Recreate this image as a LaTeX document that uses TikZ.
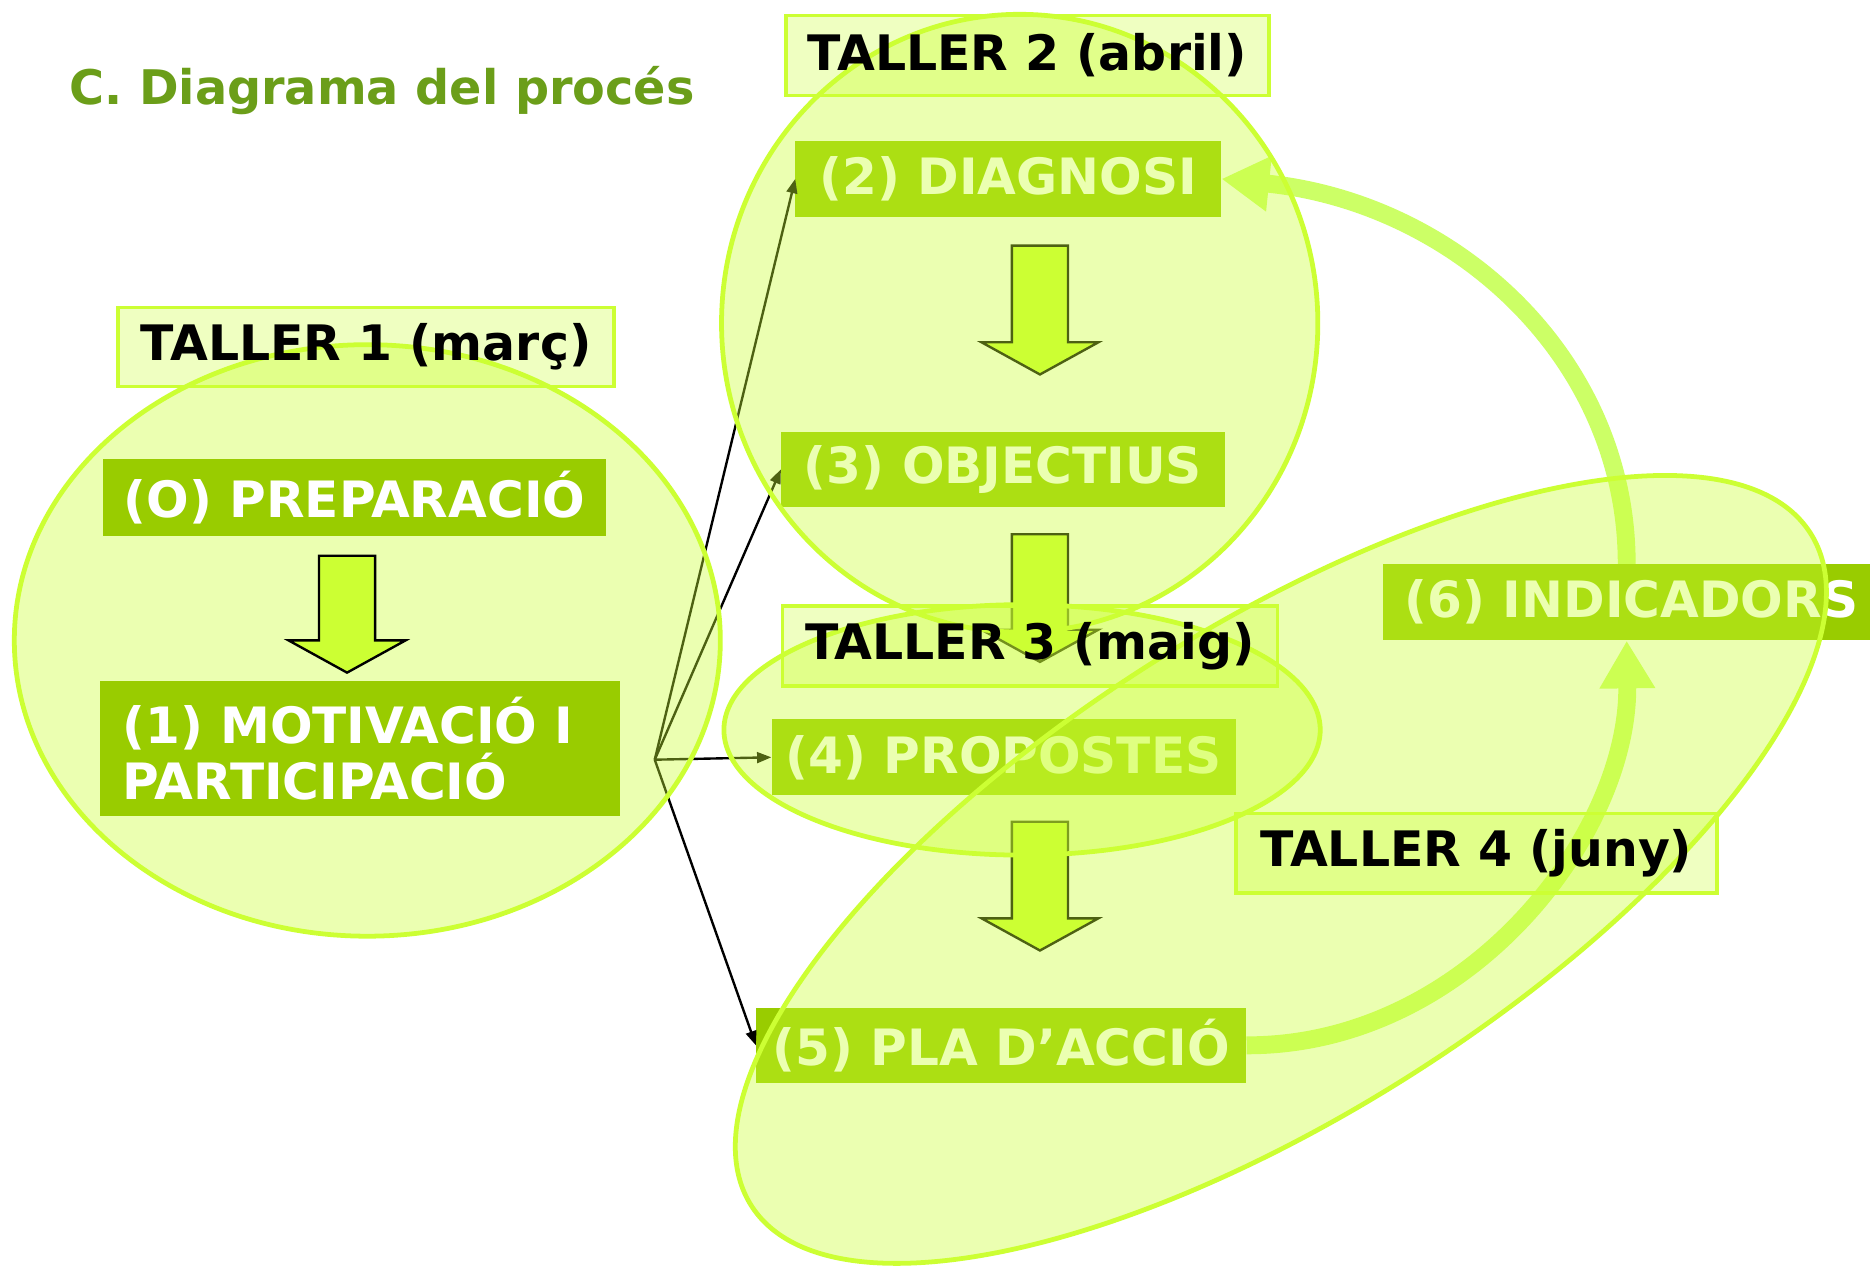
\documentclass[tikz,border=0pt]{standalone}
\usepackage{fontspec}
\setmainfont{DejaVu Sans}
\usetikzlibrary{arrows.meta}
\definecolor{boxgreen}{RGB}{153,204,0}
\definecolor{limeA}{RGB}{204,255,51}
\definecolor{limeB}{RGB}{204,255,102}
\definecolor{titlegreen}{RGB}{107,158,25}
\newcommand{\blkarrow}[4]{%
  \draw[blockarrow] (#1-23.5,#2) -- (#1+23.5,#2) -- (#1+23.5,#3) -- (#1+49,#3)
    -- (#1,#4) -- (#1-49,#3) -- (#1-23.5,#3) -- cycle;}
\begin{document}
\begin{tikzpicture}[x=1pt,y=-1pt,
  stepbox/.style={fill=boxgreen, text=white, inner sep=0pt,
    font=\fontsize{42}{47}\selectfont\bfseries},
  labelbox/.style={fill=limeA, fill opacity=0.3, text opacity=1, draw=limeA,
    draw opacity=1, line width=3pt, text=black, inner sep=0pt,
    font=\fontsize{41}{48}\selectfont\bfseries},
  ellzone/.style={fill=limeA, fill opacity=0.38, draw=limeA, draw opacity=1, line width=4pt},
  blockarrow/.style={fill=limeA, draw=black, line width=2pt, line join=miter},
  thinarrow/.style={draw=black, line width=2pt, -{Triangle[length=12pt,width=9pt]}},
  bigarrow/.style={draw=limeB, line width=15pt, -{Triangle[width=44pt,length=40pt]}}]
\useasboundingbox (0,0) rectangle (1568,1062);
\fill[white] (0,0) rectangle (1568,1062);

% title
\node[anchor=base west, inner sep=0pt, text=titlegreen,
  font=\fontsize{40}{48}\selectfont\bfseries] (title) at (58,88) {C. Diagrama del procés};

% step boxes covered by workshop zones
\node[stepbox, minimum width=357pt, minimum height=64pt] (b2) at (845.5,150) {(2) DIAGNOSI};
\node[stepbox, minimum width=372pt, minimum height=63pt] (b3) at (841,393.5) {(3) OBJECTIUS};
\node[stepbox, minimum width=389pt, minimum height=64pt] (b4) at (841.5,635) {(4) PROPOSTES};
\node[stepbox, minimum width=411pt, minimum height=63pt] (b5) at (839.5,876.5) {(5) PLA D’ACCIÓ};
\node[stepbox, minimum width=408pt, minimum height=64pt] (b6) at (1364,505) {\hspace*{8pt}(6) INDICADORS};

% thin arrows
\coordinate (hub) at (549,637);
\draw[thinarrow] (hub) -- (b2.west);
\draw[thinarrow] (hub) -- (b3.west);
\draw[thinarrow] (hub) -- (b4.west);
\draw[thinarrow] (hub) -- (b5.west);

% block arrows
\blkarrow{872}{206}{287}{314}
\blkarrow{872}{448}{528}{555}
\blkarrow{872}{689}{770}{797}

% big curved arrows
\draw[bigarrow] (b5.east) .. controls (1230,877) and (1366,700) .. (b6.south);
\draw[bigarrow] (b6.north) .. controls (1364,300) and (1220,170) .. (b2.east);

% workshop zones
\path[ellzone] (308,537) ellipse [x radius=296pt, y radius=248pt];
\path[ellzone] (855,271) ellipse [x radius=250pt, y radius=259pt];
\path[ellzone] (857,612) ellipse [x radius=250pt, y radius=105pt];
\path[ellzone, rotate around={32.4:(1074,729)}] (1074,729) ellipse [x radius=526pt, y radius=204pt];

% taller 1 boxes
\node[stepbox, minimum width=421.5pt, minimum height=64.5pt] (b0) at (297.25,417.25) {(O) PREPARACIÓ};
\node[stepbox, minimum width=436pt, minimum height=113pt, text width=398pt,
  align=left, inner xsep=19pt] (b1) at (302,627.5) {(1) MOTIVACIÓ I\\PARTICIPACIÓ};
\blkarrow{291}{466}{537}{564}

% workshop labels
\node[labelbox, minimum width=416pt, minimum height=66pt] (l1) at (307,291) {TALLER 1 (març)};
\node[labelbox, minimum width=405pt, minimum height=67pt] (l2) at (861.5,46.5) {TALLER 2 (abril)};
\node[labelbox, minimum width=415pt, minimum height=67pt] (l3) at (863.5,541.5) {TALLER 3 (maig)};
\node[labelbox, minimum width=403.5pt, minimum height=67pt] (l4) at (1238,715.5) {TALLER 4 (juny)};
\end{tikzpicture}
\end{document}
